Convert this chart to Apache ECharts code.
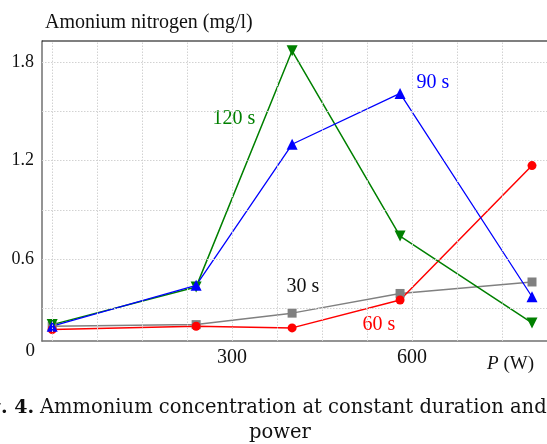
<!DOCTYPE html>
<html>
<head>
<meta charset="utf-8">
<script src="https://cdn.jsdelivr.net/npm/echarts@6/dist/echarts.min.js"></script>
<style>
  html, body { margin: 0; padding: 0; background: #fff; }
  #chart { width: 547px; height: 444px; }
</style>
</head>
<body>
<div id="chart"></div>
<script>
// power levels (W)
const powers = [0, 240, 400, 580, 800];
// ammonium nitrogen (mg/l) per treatment duration
const s30 = [0.19, 0.20, 0.27, 0.39, 0.46];
const s60 = [0.17, 0.19, 0.18, 0.35, 1.17];
const s90 = [0.19, 0.44, 1.30, 1.61, 0.37];
const s120 = [0.20, 0.43, 1.87, 0.74, 0.21];
const xTickLabels = [300, 600];
const yTickLabels = [0.6, 1.2, 1.8];
const xGrid = [0, 75, 150, 225, 300, 375, 450, 525, 600, 675, 750];
const yGrid = [0.3, 0.6, 0.9, 1.2, 1.5, 1.8];

const serif = '"Liberation Serif", "DejaVu Serif", serif';
const capFont = '"DejaVu Serif", "Liberation Serif", serif';
const pair = arr => powers.map((p, i) => [p, arr[i]]);

const chart = echarts.init(document.getElementById('chart'));

const gridStyle = { color: '#d2d2d2', type: [1.5, 1.5], width: 1 };

const option = {
    animation: false,
    grid: { left: 42, top: 41, right: 0, bottom: 103, show: false },
    xAxis: {
        type: 'value',
        min: -17,
        max: 825,
        axisLine: { show: true, lineStyle: { color: '#707070', width: 1.5 } },
        axisTick: { show: false },
        splitLine: { show: false },
        axisLabel: {
            customValues: xTickLabels,
            color: '#111',
            fontFamily: serif,
            fontSize: 20,
            margin: 7
        }
    },
    yAxis: {
        type: 'value',
        min: 0.1,
        max: 1.93,
        axisLine: { show: true, onZero: false, lineStyle: { color: '#707070', width: 1.5 } },
        axisTick: { show: false },
        splitLine: { show: false },
        axisLabel: {
            customValues: yTickLabels,
            formatter: v => v.toFixed(1),
            color: '#111',
            fontFamily: serif,
            fontSize: 18,
            margin: 8
        }
    },
    graphic: [
        { type: 'line', shape: { x1: 42, y1: 41, x2: 547, y2: 41 }, style: { stroke: '#000', lineWidth: 1.2 }, z: 10 },
        { type: 'text', x: 45, y: 23, style: { text: 'Amonium nitrogen (mg/l)', font: '20px ' + serif, fill: '#111', textVerticalAlign: 'middle' } },
        { type: 'text', x: 35, y: 351, style: { text: '0', font: '19px ' + serif, fill: '#111', textAlign: 'right', textVerticalAlign: 'middle' } },
        { type: 'text', x: 534, y: 364, style: {
            text: '{i|P} (W)', textAlign: 'right', textVerticalAlign: 'middle', font: '19px ' + serif, fill: '#111',
            rich: { i: { fontStyle: 'italic', fontFamily: serif, fontSize: 19 } }
        } },
        { type: 'text', x: 234, y: 119, style: { text: '120 s', font: '20px ' + serif, fill: '#008000', textAlign: 'center', textVerticalAlign: 'middle' } },
        { type: 'text', x: 433, y: 83, style: { text: '90 s', font: '20px ' + serif, fill: '#0000ff', textAlign: 'center', textVerticalAlign: 'middle' } },
        { type: 'text', x: 303, y: 287, style: { text: '30 s', font: '20px ' + serif, fill: '#111', textAlign: 'center', textVerticalAlign: 'middle' } },
        { type: 'text', x: 379, y: 325, style: { text: '60 s', font: '20px ' + serif, fill: '#ff0000', textAlign: 'center', textVerticalAlign: 'middle' } },
        { type: 'text', x: 34, y: 408, style: { text: 'Fig. 4.', font: 'bold 19px ' + capFont, fill: '#111', textAlign: 'right', textVerticalAlign: 'middle' } },
        { type: 'text', x: 40, y: 408, style: { text: 'Ammonium concentration at constant duration and the', font: '19.5px ' + capFont, fill: '#111', textVerticalAlign: 'middle' } },
        { type: 'text', x: 280, y: 433, style: { text: 'power', font: '19.5px ' + capFont, fill: '#111', textAlign: 'center', textVerticalAlign: 'middle' } }
    ],
    series: [
        {
            name: 'grid',
            type: 'line',
            data: [],
            silent: true,
            markLine: {
                silent: true,
                symbol: 'none',
                label: { show: false },
                lineStyle: gridStyle,
                data: xGrid.map(v => ({ xAxis: v })).concat(yGrid.map(v => ({ yAxis: v })))
            }
        },
        {
            name: '30 s', type: 'line', data: pair(s30),
            symbol: 'rect', symbolSize: 9,
            lineStyle: { color: '#808080', width: 1.5 },
            itemStyle: { color: '#808080' }
        },
        {
            name: '60 s', type: 'line', data: pair(s60),
            symbol: 'circle', symbolSize: 9,
            lineStyle: { color: '#ff0000', width: 1.5 },
            itemStyle: { color: '#ff0000' }
        },
        {
            name: '120 s', type: 'line', data: pair(s120),
            symbol: 'triangle', symbolRotate: 180, symbolSize: 11,
            lineStyle: { color: '#008000', width: 1.5 },
            itemStyle: { color: '#008000' }
        },
        {
            name: '90 s', type: 'line', data: pair(s90),
            symbol: 'triangle', symbolSize: 11,
            lineStyle: { color: '#0000ff', width: 1.3 },
            itemStyle: { color: '#0000ff' }
        }
    ]
};

chart.setOption(option);
</script>
</body>
</html>
